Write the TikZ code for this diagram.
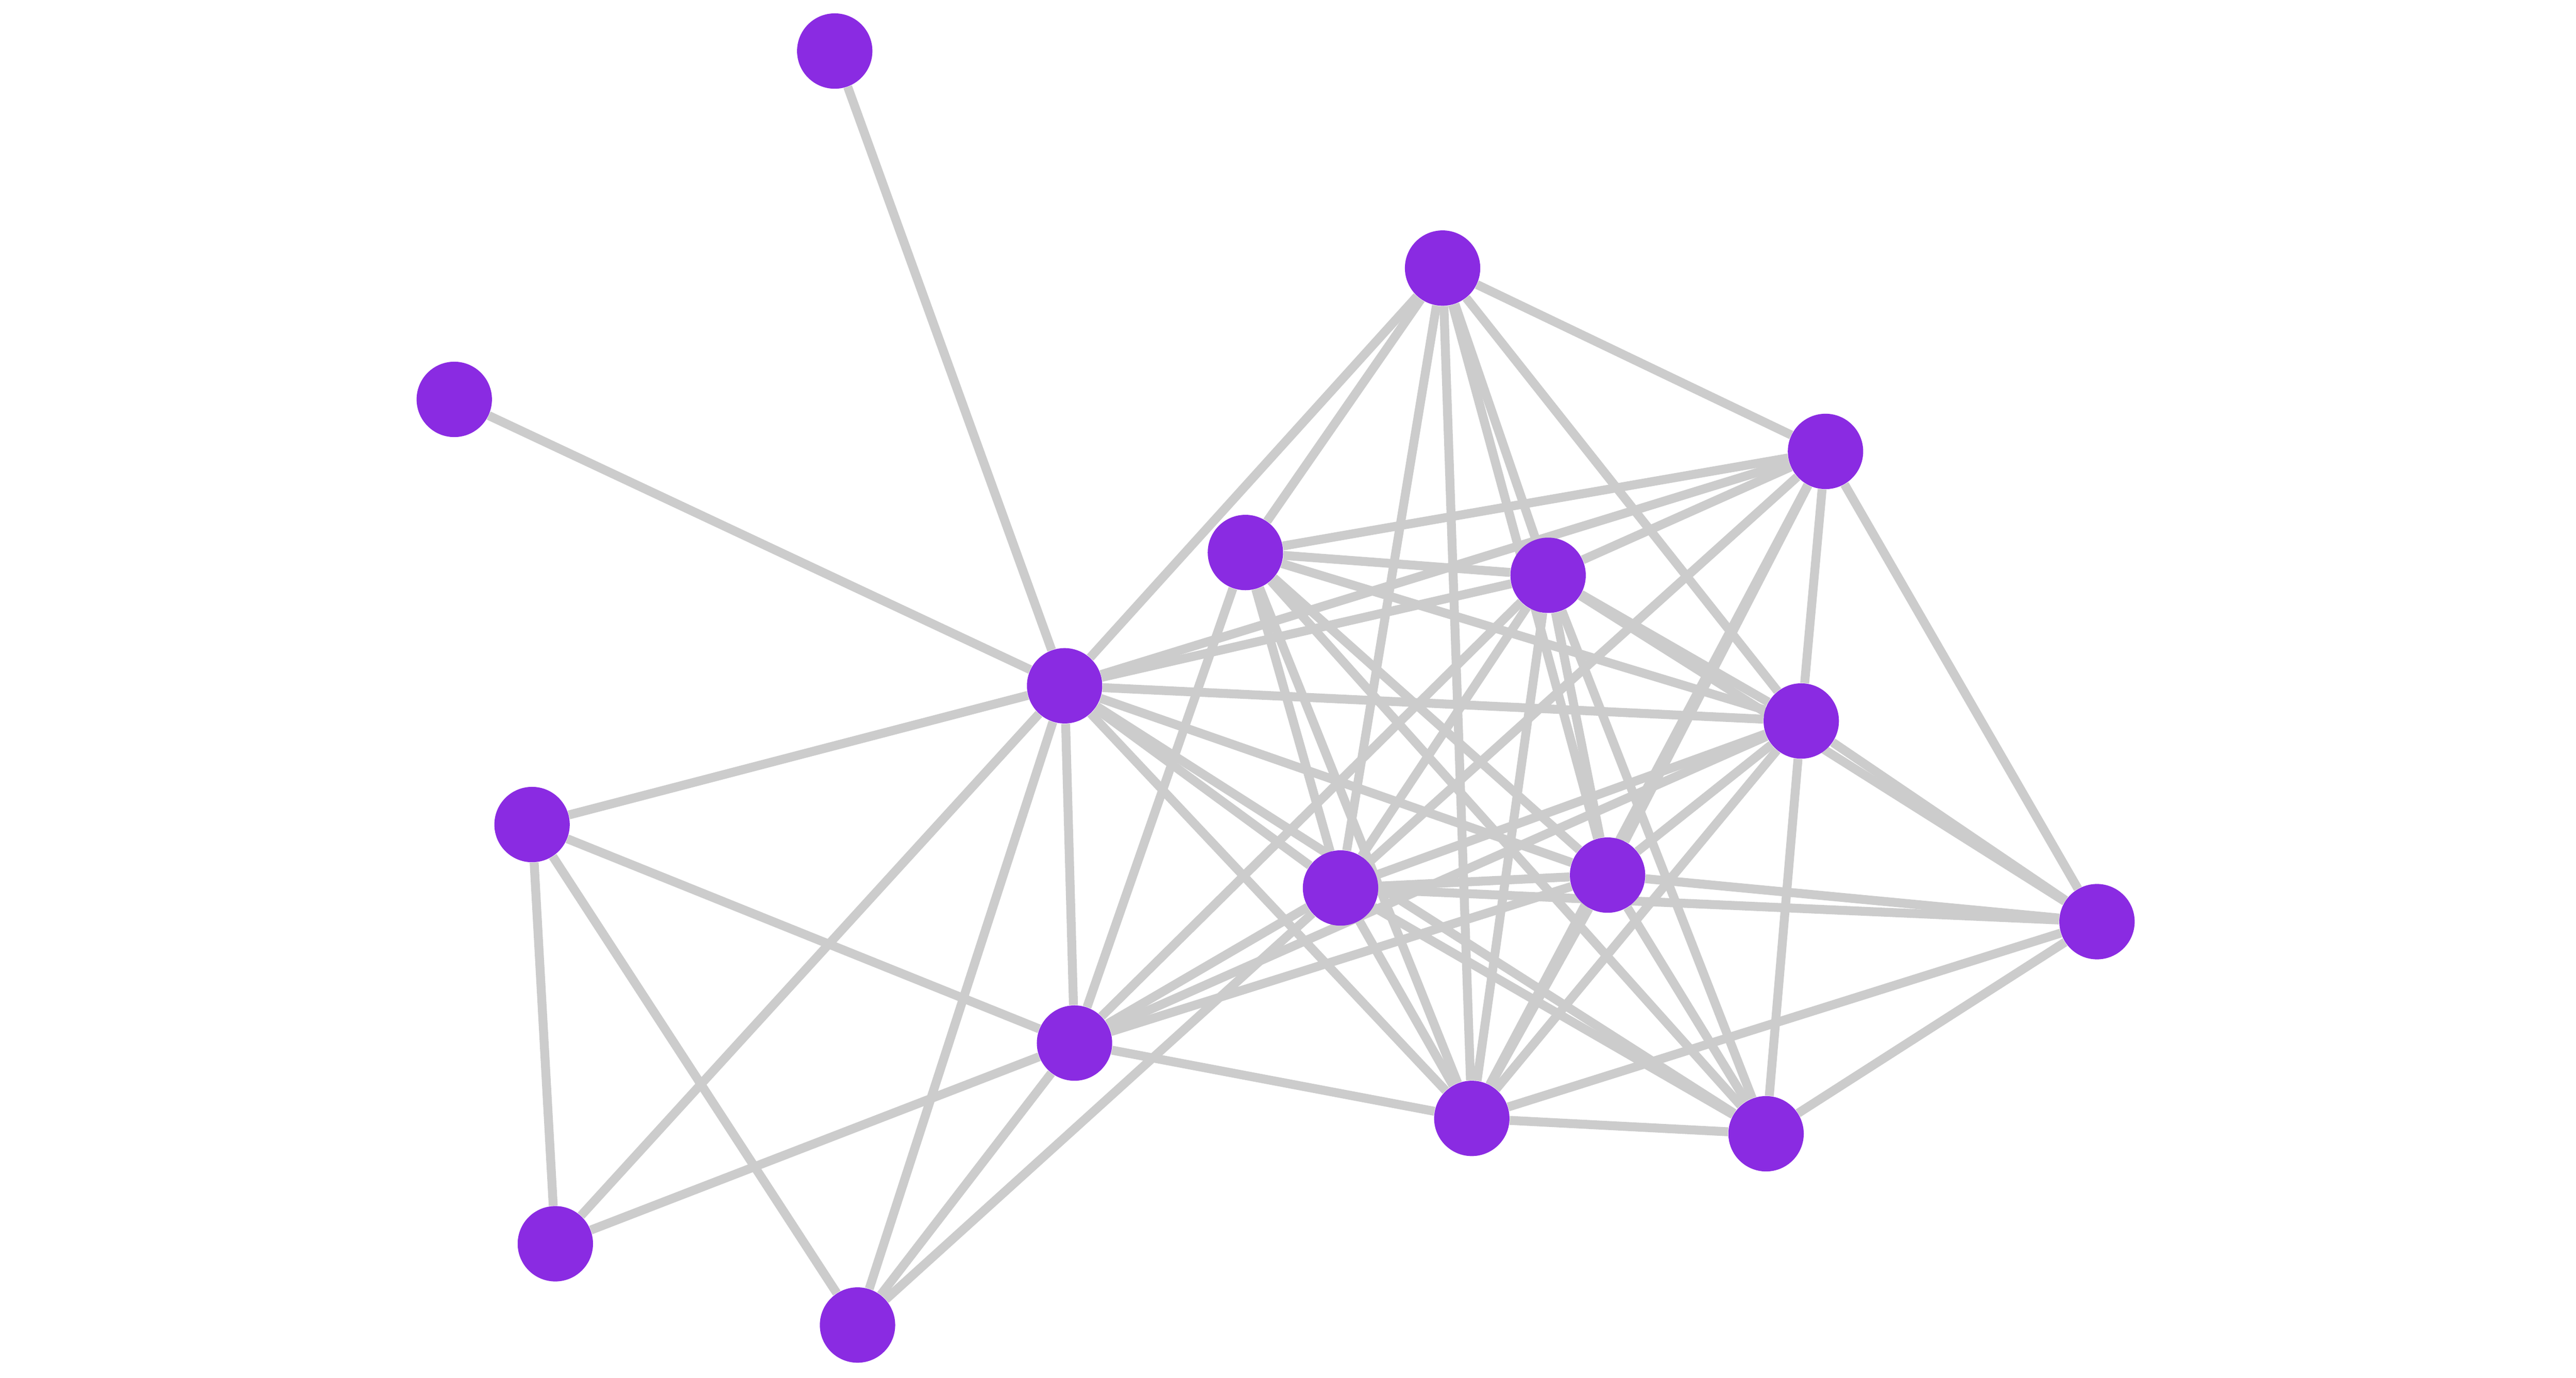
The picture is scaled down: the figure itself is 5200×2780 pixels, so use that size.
\documentclass[tikz,border=0pt]{standalone}
\usepackage{xcolor}
\usepackage{tikz}
\usetikzlibrary{backgrounds}
\definecolor{nodeviolet}{HTML}{8A2BE2}
\definecolor{edgegray}{HTML}{CCCCCC}

\begin{document}
\begin{tikzpicture}[x=0.01cm, y=-0.01cm,
		vertex/.style={circle, fill=nodeviolet, draw=none, minimum size=1.52cm, inner sep=0pt},
		edge/.style={draw=edgegray, line width=0.18cm}]
		\useasboundingbox (0, 0) rectangle (5200, 2780);
		% Vertices (pixel coordinates of the layout)
		\node[vertex] (A) at (1685, 103) {};
		\node[vertex] (B) at (917, 806) {};
		\node[vertex] (C) at (2912, 541) {}; \node[vertex] (D) at (3685, 911) {};
		\node[vertex] (E) at (2514, 1115) {}; \node[vertex] (F) at (3125, 1161) {};
		\node[vertex] (G) at (2149, 1384) {}; % Hub on the left
		\node[vertex] (H) at (3636, 1455) {};
		\node[vertex] (I) at (1074, 1664) {};
		\node[vertex] (J) at (2706, 1792) {}; \node[vertex] (K) at (3245, 1766) {};
		\node[vertex] (L) at (4233, 1860) {};
		\node[vertex] (M) at (2169, 2105) {};
		\node[vertex] (N) at (2971, 2257) {}; \node[vertex] (O) at (3565, 2288) {};
		\node[vertex] (P) at (1121, 2510) {};
		\node[vertex] (Q) at (1731, 2674) {};
		% Drawing the edges
		\begin{pgfonlayer}{background}
		\fill[white] (0, 0) rectangle (5200, 2780);
		%% Outer vertices
		\draw[edge] (A) to (G); \draw[edge] (B) to (G);
		\draw[edge] (I) to (G); \draw[edge] (I) to (M); \draw[edge] (I) to (P); \draw[edge] (I) to (Q);
		\draw[edge] (P) to (G); \draw[edge] (P) to (M);
		\draw[edge] (Q) to (G); \draw[edge] (Q) to (M); \draw[edge] (Q) to (J);
		%% Hub
		\draw[edge] (G) to (C); \draw[edge] (G) to (D); \draw[edge] (G) to (F);
		\draw[edge] (G) to (H); \draw[edge] (G) to (J); \draw[edge] (G) to (K);
		\draw[edge] (G) to (M); \draw[edge] (G) to (N); \draw[edge] (G) to (O);
		%% Upper part
		\draw[edge] (C) to (D); \draw[edge] (C) to (E); \draw[edge] (C) to (F);
		\draw[edge] (C) to (H); \draw[edge] (C) to (J); \draw[edge] (C) to (K);
		\draw[edge] (C) to (N);
		\draw[edge] (D) to (E); \draw[edge] (D) to (F); \draw[edge] (D) to (H);
		\draw[edge] (D) to (J); \draw[edge] (D) to (K); \draw[edge] (D) to (L);
		\draw[edge] (D) to (N);
		\draw[edge] (E) to (F); \draw[edge] (E) to (H); \draw[edge] (E) to (J);
		\draw[edge] (E) to (K); \draw[edge] (E) to (M); \draw[edge] (E) to (N);
		\draw[edge] (E) to (O);
		\draw[edge] (F) to (H); \draw[edge] (F) to (J); \draw[edge] (F) to (K);
		\draw[edge] (F) to (L); \draw[edge] (F) to (M); \draw[edge] (F) to (N);
		\draw[edge] (F) to (O);
		%% Middle and lower part
		\draw[edge] (H) to (J); \draw[edge] (H) to (K); \draw[edge] (H) to (L);
		\draw[edge] (H) to (M); \draw[edge] (H) to (N); \draw[edge] (H) to (O);
		\draw[edge] (J) to (K); \draw[edge] (J) to (L); \draw[edge] (J) to (M);
		\draw[edge] (J) to (N); \draw[edge] (J) to (O);
		\draw[edge] (K) to (L); \draw[edge] (K) to (M); \draw[edge] (K) to (N);
		\draw[edge] (K) to (O);
		\draw[edge] (L) to (N); \draw[edge] (L) to (O);
		\draw[edge] (M) to (N); \draw[edge] (N) to (O);
		\end{pgfonlayer}
	\end{tikzpicture}
\end{document}
